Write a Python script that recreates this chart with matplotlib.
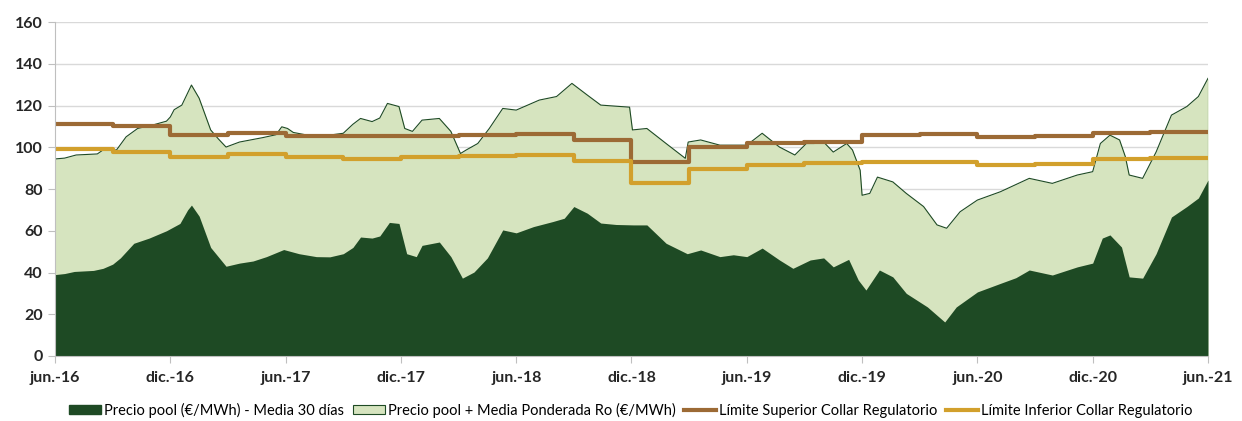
import matplotlib
matplotlib.use("Agg")
import matplotlib.pyplot as plt
import numpy as np
from matplotlib.patches import Patch
from matplotlib.lines import Line2D

plt.rcParams['font.family'] = ['Lato', 'DejaVu Sans']

# meses desde jun.-16
pool_x = [0, 0.5, 1.0, 2.0, 2.5, 3.0, 3.4, 4.1, 4.9, 5.8,
          6.5, 6.9, 7.1, 7.5, 8.1, 8.9, 9.6, 10.3, 11.0, 11.9,
          12.7, 13.6, 14.3, 15.0, 15.5, 15.9, 16.5, 16.9, 17.4, 17.9,
          18.3, 18.8, 19.1, 20.0, 20.6, 21.2, 21.8, 22.5, 23.3, 24.0,
          24.9, 25.9, 26.5, 27.0, 27.7, 28.4, 29.2, 30.1, 30.8, 31.8,
          32.9, 33.6, 34.6, 35.3, 36.0, 36.8, 37.7, 38.4, 39.3, 40.0,
          40.5, 41.3, 41.8, 42.2, 42.9, 43.6, 44.3, 45.4, 46.3, 46.9,
          48.0, 49.2, 50.0, 50.7, 51.9, 53.2, 54.0, 54.5, 54.9, 55.5,
          55.9, 56.6, 57.3, 58.1, 58.9, 59.5, 60.0]
pool_y = [39, 39.5, 40.5, 41, 42, 44, 47, 54, 56.5, 60,
          63.5, 70, 72.3, 67, 52, 43, 44.5, 45.5, 47.6, 51,
          49, 47.6, 47.5, 49, 52, 57, 56.5, 57.5, 64, 63.5,
          49, 47.6, 53, 54.6, 47.6, 37.3, 40.2, 47, 60.4, 59,
          62, 64.4, 66, 71.6, 68.4, 63.7, 63, 62.8, 62.8, 54,
          49, 50.8, 47.6, 48.5, 47.6, 51.7, 46, 42, 46, 47,
          42.7, 46.3, 36.4, 31.6, 41.2, 37.9, 30, 23.5, 16.3, 23.5,
          30.7, 34.8, 37.5, 41.2, 38.8, 42.7, 44.5, 56.5, 58, 52.2,
          37.9, 37.3, 49, 66.6, 71.6, 75.7, 84.3]

total_x = [0, 0.5, 1.1, 2.2, 2.5, 3.2, 3.7, 4.3, 5.1, 5.8,
           6.0, 6.2, 6.6, 7.1, 7.5, 8.1, 8.5, 8.9, 9.6, 10.8,
           11.5, 11.8, 12.1, 12.4, 13.6, 15.0, 15.5, 15.9, 16.5, 16.9,
           17.3, 17.9, 18.2, 18.6, 19.1, 20.0, 20.6, 21.1, 21.4, 22.0,
           22.6, 23.3, 24.0, 25.2, 26.1, 26.9, 27.7, 28.4, 29.9, 30.05,
           30.8, 31.8, 32.8, 32.95, 33.6, 34.6, 36.0, 36.8, 37.7, 38.5,
           39.1, 39.5, 40.0, 40.5, 41.2, 41.5, 41.9, 42.0, 42.4, 42.8,
           43.6, 44.3, 45.2, 45.9, 46.4, 47.1, 48.0, 49.2, 50.7, 51.9,
           53.2, 54.0, 54.4, 54.9, 55.4, 55.7, 55.9, 56.6, 57.3, 58.1,
           58.9, 59.5, 60.0]
total_y = [94.4, 94.8, 96.3, 96.8, 98.7, 98.7, 105, 109, 110.7, 112.5,
           114.5, 118, 120.2, 129.8, 123.5, 108.3, 104, 100.1, 102.5, 104.6,
           106, 109.8, 109, 107.1, 105, 106.7, 111, 113.8, 112.3, 114,
           121, 119.5, 109, 107.6, 113, 113.8, 107.6, 97, 98.7, 101.8,
           109, 118.6, 117.8, 122.6, 124.3, 130.6, 125, 120.2, 119.2, 108.3,
           109, 101.8, 94.7, 102.5, 103.5, 101, 101, 106.7, 100.1, 96.3,
           101.8, 101.8, 102.5, 97.7, 101.8, 98.7, 89, 77, 77.9, 85.7,
           83.4, 77.9, 71.6, 62.8, 61.2, 69.1, 74.7, 78.7, 85.1, 82.7,
           86.7, 88.3, 101.8, 105.8, 103.5, 95.5, 86.7, 85.1, 97.7, 115.4,
           119.5, 124.3, 133]

# límites trimestrales
quarter_x = list(range(0, 61, 3))
upper = [111.2, 110.0, 105.8, 107.0, 105.6, 105.2, 105.6, 106.0, 106.2, 103.6,
         92.9, 100.0, 102.0, 102.6, 105.8, 106.2, 105.0, 105.2, 107.0, 107.3]
lower = [99.3, 97.9, 95.3, 96.6, 95.1, 94.5, 95.5, 96.0, 96.1, 93.4,
         83.0, 89.4, 91.6, 92.4, 92.8, 93.0, 91.6, 92.0, 94.5, 94.8]

tick_labels = ['jun.-16', 'dic.-16', 'jun.-17', 'dic.-17', 'jun.-18', 'dic.-18',
               'jun.-19', 'dic.-19', 'jun.-20', 'dic.-20', 'jun.-21']

dark = '#1e4a24'
light = '#d6e4bf'
brown = '#9c6a35'
gold = '#d2a02c'

fig = plt.figure(figsize=(12.42, 4.21), dpi=100)
ax = fig.add_axes([0.0443, 0.1544, 0.9283, 0.7933])

ax.fill_between(total_x, 0, total_y, color=light, linewidth=0)
ax.plot(total_x, total_y, color=dark, linewidth=0.8)
ax.plot([60, 60], [0, total_y[-1]], color=dark, linewidth=0.8)
ax.fill_between(pool_x, 0, pool_y, color=dark, linewidth=0)

ax.step(quarter_x, upper + [upper[-1]], where='post', color=brown, linewidth=3)
ax.step(quarter_x, lower + [lower[-1]], where='post', color=gold, linewidth=3)

ax.set_xlim(0, 60)
ax.set_ylim(0, 160)
ax.set_yticks(range(0, 161, 20))
ax.set_xticks(range(0, 61, 6))
ax.set_xticklabels(tick_labels)
for lab in ax.get_xticklabels() + ax.get_yticklabels():
    lab.set_fontweight('bold')
    lab.set_fontsize(11.5)
    lab.set_color('#262626')
ax.tick_params(axis='x', length=5, color='#bfbfbf', pad=6)
ax.tick_params(axis='y', length=5, color='#bfbfbf', pad=4)
ax.grid(axis='y', color='#d9d9d9', linewidth=1)
ax.set_axisbelow(True)
for s in ['top', 'right']:
    ax.spines[s].set_visible(False)
ax.spines['left'].set_color('#bfbfbf')
ax.spines['bottom'].set_color('#bfbfbf')

handles = [
    Patch(facecolor=dark, edgecolor=dark),
    Patch(facecolor=light, edgecolor=dark, linewidth=0.8),
    Line2D([], [], color=brown, linewidth=3),
    Line2D([], [], color=gold, linewidth=3),
]
labels = ['Precio pool (€/MWh) - Media 30 días',
          'Precio pool + Media Ponderada Ro (€/MWh)',
          'Límite Superior Collar Regulatorio',
          'Límite Inferior Collar Regulatorio']
fig.legend(handles, labels, loc='center', bbox_to_anchor=(0.508, 0.025), ncol=4,
           frameon=False, fontsize=10.5, handlelength=2.2, handletextpad=0.2,
           columnspacing=0.6, handleheight=0.6)

fig.savefig('out.png', dpi=100)
